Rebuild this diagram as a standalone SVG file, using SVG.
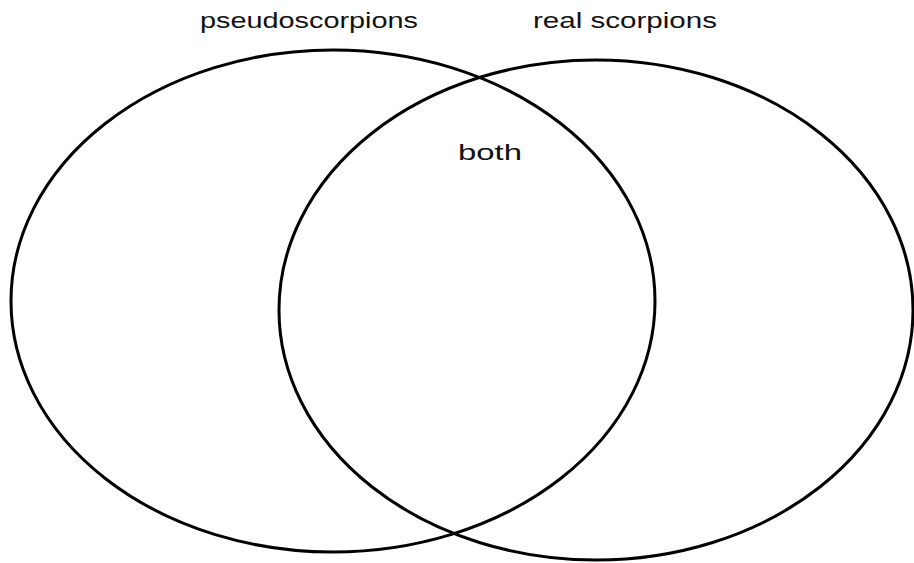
<svg xmlns="http://www.w3.org/2000/svg" width="914" height="563" viewBox="0 0 914 563">
<style>
.set{fill:none;stroke:#000;stroke-width:3}
.lbl{font-family:"Liberation Sans","DejaVu Sans",sans-serif;font-size:22px;fill:#111}
</style>
<rect width="914" height="563" fill="#fff"/>
<g id="pseudoscorpions">
<ellipse class="set" cx="333" cy="301" rx="322" ry="251"/>
<text class="lbl" x="200" y="28" textLength="218" lengthAdjust="spacingAndGlyphs">pseudoscorpions</text>
</g>
<g id="real-scorpions">
<ellipse class="set" cx="596" cy="310" rx="317" ry="250"/>
<text class="lbl" x="533" y="28" textLength="184" lengthAdjust="spacingAndGlyphs">real scorpions</text>
</g>
<g id="both">
<text class="lbl" x="458" y="160" textLength="64" lengthAdjust="spacingAndGlyphs">both</text>
</g>
<g id="connectors"/>
</svg>
